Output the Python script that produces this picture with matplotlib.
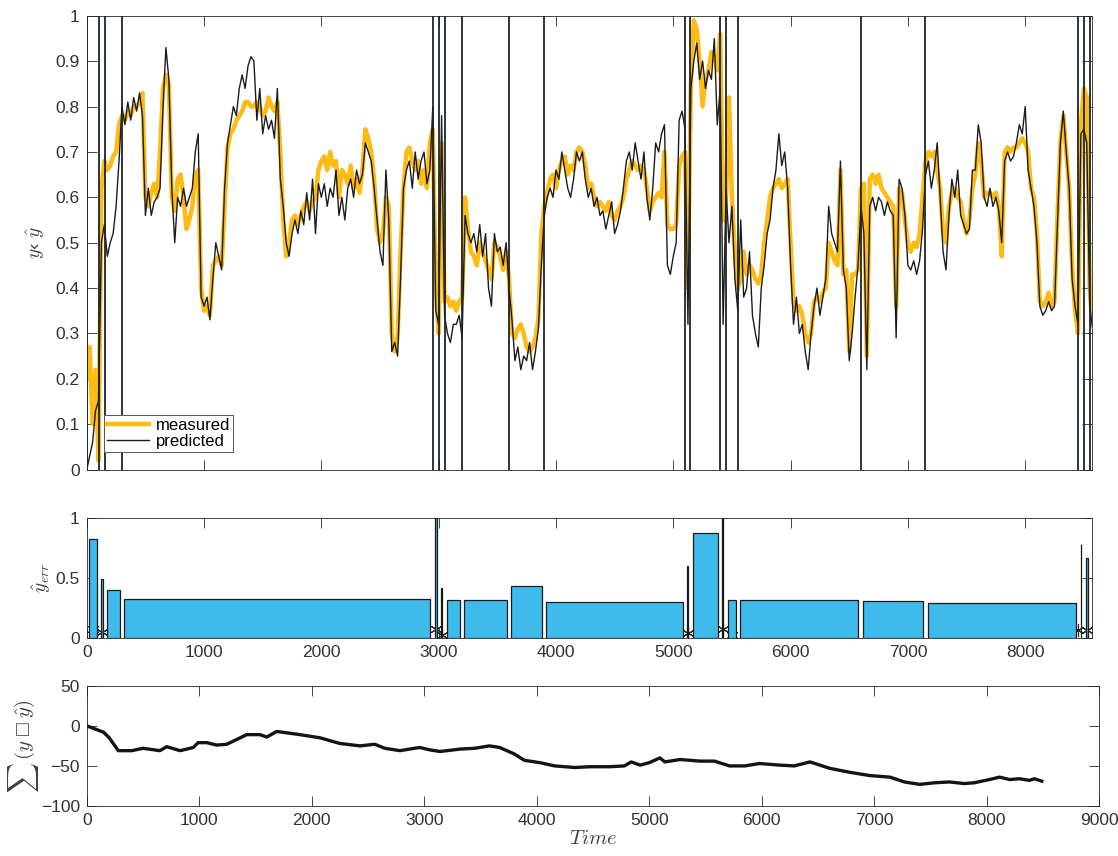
import numpy as np
import matplotlib
matplotlib.use("Agg")
import matplotlib.pyplot as plt

plt.rcParams['font.family'] = ['Liberation Sans', 'DejaVu Sans']
plt.rcParams['mathtext.fontset'] = 'cm'

# ---- sampled series (every 25 time steps) ----
time = np.arange(0, 8576, 25)

measured = np.array([
    0.20, 0.27, 0.10, 0.22, 0.02, 0.62, 0.68, 0.66, 0.67, 0.69, 0.70, 0.76, 0.78, 0.77, 0.79, 0.78, 0.80, 0.80, 0.81, 0.83,
    0.60, 0.58, 0.61, 0.63, 0.60, 0.70, 0.84, 0.87, 0.85, 0.60, 0.57, 0.64, 0.65, 0.60, 0.53, 0.55, 0.58, 0.65, 0.66, 0.40,
    0.35, 0.36, 0.34, 0.45, 0.46, 0.47, 0.45, 0.58, 0.71, 0.74, 0.75, 0.77, 0.78, 0.79, 0.81, 0.81, 0.80, 0.80, 0.81, 0.80,
    0.78, 0.79, 0.82, 0.80, 0.79, 0.81, 0.70, 0.55, 0.47, 0.50, 0.55, 0.56, 0.54, 0.56, 0.58, 0.59, 0.57, 0.59, 0.60, 0.66,
    0.68, 0.69, 0.66, 0.70, 0.67, 0.68, 0.60, 0.66, 0.65, 0.63, 0.67, 0.62, 0.64, 0.61, 0.66, 0.75, 0.73, 0.70, 0.64, 0.53,
    0.50, 0.52, 0.60, 0.58, 0.30, 0.26, 0.29, 0.48, 0.62, 0.70, 0.71, 0.68, 0.66, 0.68, 0.63, 0.66, 0.62, 0.72, 0.75, 0.40,
    0.30, 0.72, 0.37, 0.38, 0.36, 0.37, 0.35, 0.37, 0.38, 0.60, 0.53, 0.48, 0.47, 0.45, 0.50, 0.48, 0.46, 0.44, 0.42, 0.50,
    0.49, 0.47, 0.44, 0.48, 0.42, 0.30, 0.29, 0.31, 0.32, 0.30, 0.27, 0.26, 0.27, 0.29, 0.33, 0.52, 0.58, 0.61, 0.64, 0.65,
    0.62, 0.66, 0.68, 0.69, 0.65, 0.67, 0.66, 0.70, 0.71, 0.70, 0.67, 0.62, 0.63, 0.60, 0.58, 0.59, 0.58, 0.57, 0.59, 0.56,
    0.55, 0.57, 0.58, 0.60, 0.64, 0.66, 0.68, 0.67, 0.66, 0.67, 0.66, 0.62, 0.57, 0.59, 0.60, 0.61, 0.60, 0.70, 0.54, 0.53,
    0.53, 0.54, 0.67, 0.69, 0.70, 0.40, 0.85, 0.99, 0.97, 0.90, 0.80, 0.86, 0.88, 0.92, 0.91, 0.88, 0.96, 0.55, 0.60, 0.82,
    0.60, 0.48, 0.40, 0.42, 0.48, 0.43, 0.45, 0.44, 0.42, 0.41, 0.43, 0.50, 0.55, 0.60, 0.62, 0.63, 0.64, 0.62, 0.63, 0.64,
    0.50, 0.37, 0.35, 0.36, 0.34, 0.30, 0.28, 0.30, 0.37, 0.38, 0.37, 0.39, 0.40, 0.50, 0.48, 0.46, 0.45, 0.66, 0.43, 0.44,
    0.26, 0.43, 0.43, 0.44, 0.62, 0.63, 0.25, 0.64, 0.65, 0.63, 0.65, 0.62, 0.61, 0.60, 0.59, 0.58, 0.36, 0.62, 0.61, 0.55,
    0.50, 0.48, 0.50, 0.49, 0.52, 0.60, 0.68, 0.70, 0.69, 0.70, 0.66, 0.62, 0.52, 0.50, 0.58, 0.61, 0.62, 0.60, 0.59, 0.55,
    0.52, 0.55, 0.62, 0.65, 0.72, 0.68, 0.60, 0.61, 0.61, 0.60, 0.61, 0.58, 0.47, 0.70, 0.71, 0.70, 0.71, 0.71, 0.72, 0.73,
    0.72, 0.70, 0.62, 0.60, 0.52, 0.37, 0.36, 0.37, 0.39, 0.36, 0.37, 0.56, 0.72, 0.78, 0.70, 0.62, 0.45, 0.35, 0.30, 0.76,
    0.84, 0.82, 0.40, 0.32,
])

predicted = np.array([
    0.00, 0.03, 0.06, 0.13, 0.15, 0.50, 0.54, 0.47, 0.50, 0.52, 0.58, 0.68, 0.80, 0.76, 0.81, 0.77, 0.82, 0.79, 0.83, 0.78,
    0.56, 0.62, 0.56, 0.59, 0.60, 0.62, 0.80, 0.93, 0.86, 0.62, 0.50, 0.60, 0.58, 0.62, 0.58, 0.60, 0.62, 0.70, 0.74, 0.38,
    0.36, 0.38, 0.33, 0.42, 0.50, 0.47, 0.44, 0.62, 0.72, 0.76, 0.80, 0.78, 0.84, 0.87, 0.84, 0.89, 0.91, 0.90, 0.77, 0.84,
    0.74, 0.78, 0.75, 0.77, 0.73, 0.84, 0.64, 0.58, 0.50, 0.47, 0.52, 0.55, 0.52, 0.57, 0.54, 0.61, 0.55, 0.64, 0.52, 0.63,
    0.60, 0.63, 0.58, 0.62, 0.60, 0.66, 0.56, 0.60, 0.55, 0.62, 0.64, 0.60, 0.66, 0.63, 0.65, 0.72, 0.70, 0.68, 0.62, 0.55,
    0.48, 0.45, 0.66, 0.55, 0.26, 0.28, 0.25, 0.42, 0.62, 0.66, 0.68, 0.62, 0.70, 0.64, 0.68, 0.70, 0.63, 0.66, 0.80, 0.35,
    0.32, 0.78, 0.34, 0.30, 0.28, 0.32, 0.32, 0.34, 0.29, 0.56, 0.52, 0.50, 0.52, 0.48, 0.54, 0.47, 0.52, 0.40, 0.36, 0.52,
    0.48, 0.49, 0.45, 0.50, 0.40, 0.33, 0.24, 0.27, 0.22, 0.25, 0.24, 0.28, 0.22, 0.26, 0.31, 0.45, 0.56, 0.60, 0.62, 0.60,
    0.66, 0.64, 0.70, 0.66, 0.62, 0.60, 0.64, 0.70, 0.68, 0.70, 0.64, 0.60, 0.62, 0.58, 0.60, 0.56, 0.57, 0.53, 0.56, 0.59,
    0.52, 0.54, 0.57, 0.62, 0.68, 0.70, 0.66, 0.72, 0.68, 0.64, 0.70, 0.60, 0.55, 0.62, 0.72, 0.70, 0.74, 0.76, 0.45, 0.43,
    0.47, 0.50, 0.77, 0.79, 0.75, 0.32, 0.84, 0.90, 0.94, 0.86, 0.90, 0.84, 0.88, 0.86, 0.95, 0.76, 0.84, 0.32, 0.62, 0.50,
    0.58, 0.42, 0.35, 0.55, 0.38, 0.40, 0.48, 0.34, 0.30, 0.27, 0.40, 0.45, 0.52, 0.55, 0.62, 0.66, 0.74, 0.67, 0.70, 0.62,
    0.45, 0.32, 0.38, 0.30, 0.32, 0.26, 0.22, 0.30, 0.36, 0.40, 0.34, 0.38, 0.42, 0.58, 0.52, 0.50, 0.48, 0.68, 0.44, 0.40,
    0.24, 0.30, 0.38, 0.45, 0.58, 0.52, 0.22, 0.58, 0.60, 0.57, 0.60, 0.59, 0.56, 0.59, 0.57, 0.56, 0.29, 0.64, 0.62, 0.56,
    0.45, 0.44, 0.46, 0.43, 0.46, 0.53, 0.65, 0.68, 0.62, 0.66, 0.72, 0.60, 0.48, 0.44, 0.56, 0.64, 0.60, 0.66, 0.56, 0.54,
    0.52, 0.53, 0.66, 0.66, 0.76, 0.72, 0.60, 0.58, 0.62, 0.58, 0.60, 0.57, 0.50, 0.68, 0.70, 0.68, 0.69, 0.72, 0.76, 0.74,
    0.80, 0.66, 0.62, 0.58, 0.50, 0.36, 0.34, 0.35, 0.37, 0.35, 0.36, 0.54, 0.72, 0.79, 0.70, 0.62, 0.42, 0.36, 0.32, 0.74,
    0.75, 0.72, 0.36, 0.31,
])

# ---- segmentation (change points) and per-segment error ----
boundaries = [0, 105, 156, 301, 2950, 3003, 3052, 3200, 3600, 3899,
              5101, 5146, 5399, 5448, 5553, 6598, 7150, 8454, 8500, 8553]
seg_err = [0.82, 0.49, 0.40, 0.33, 1.00, 0.42, 0.32, 0.32, 0.43, 0.30,
           0.60, 0.87, 1.00, 0.32, 0.32, 0.31, 0.29, 0.78, 0.67]
star_t = [52, 130, 2976, 3027, 5123, 5423, 5500, 8450, 8527]
star_v = [0.08, 0.05, 0.08, 0.03, 0.045, 0.08, 0.03, 0.07, 0.07]

# ---- cumulative residual ----
cum_t = [0, 75, 150, 200, 281, 400, 500, 650, 711, 830, 948, 990, 1067, 1155, 1244, 1304, 1422, 1540,
         1600, 1689, 1896, 2075, 2250, 2430, 2560, 2650, 2785, 2870, 2960, 3050, 3140, 3320, 3450,
         3580, 3670, 3800, 3890, 4030, 4160, 4340, 4470, 4650, 4780, 4840, 4920, 5000, 5095, 5140,
         5275, 5450, 5580, 5715, 5850, 5980, 6160, 6290, 6430, 6605, 6785, 6960, 7140, 7270, 7405,
         7540, 7670, 7800, 7890, 8025, 8115, 8205, 8290, 8380, 8425, 8490]
cum_v = [0, -4, -8, -15, -31, -31, -28, -31, -26, -31, -27, -21, -21, -24, -23, -19, -11, -11,
         -14, -7, -11, -15, -22, -25, -23, -28, -31, -29, -27, -30, -32, -29, -28,
         -25, -27, -35, -43, -46, -50, -52, -51, -51, -50, -45, -49, -46, -40, -45,
         -42, -44, -44, -50, -50, -47, -49, -50, -45, -53, -58, -62, -64, -70, -73,
         -71, -70, -72, -71, -67, -64, -67, -66, -68, -66, -69]

t_end = 8573
axis_col = '#262626'
label_col = '#333333'
yellow = '#FDBB13'
bar_col = '#3EBAEB'

fig = plt.figure(figsize=(11.18, 8.56), dpi=100)
ax1 = fig.add_axes([0.0776, 0.4515, 0.8995, 0.5300])
ax2 = fig.add_axes([0.0776, 0.2543, 0.8995, 0.1409])
ax3 = fig.add_axes([0.0776, 0.0584, 0.9055, 0.1405])

for ax in (ax1, ax2, ax3):
    ax.tick_params(direction='in', length=7, width=0.6, color=axis_col,
                   labelcolor=label_col, labelsize=12.5, top=True, right=True, pad=5)
    for s in ax.spines.values():
        s.set_color(axis_col)
        s.set_linewidth(0.6)

# top: measured vs predicted with change points
ax1.plot(time, measured, color=yellow, lw=3.2, label='measured', solid_joinstyle='round')
ax1.plot(time, predicted, color='#1c1c1c', lw=1.0, label='predicted')
for b in boundaries:
    ax1.axvline(b, color='#1d252c', lw=1.3, zorder=4)
ax1.set_xlim(0, t_end)
ax1.set_ylim(0, 1)
ax1.set_xticks(np.arange(0, 9000, 1000))
ax1.set_xticklabels([])
yt = np.round(np.arange(0, 1.01, 0.1), 1)
ax1.set_yticks(yt)
ax1.set_yticklabels(['0' if v == 0 else ('1' if v == 1 else f'{v:g}') for v in yt])
ax1.set_ylabel('$y$‹ $\\hat{y}$', fontsize=14, color='#404040', labelpad=6)
leg = ax1.legend(loc='lower left', bbox_to_anchor=(0.017, 0.038), borderaxespad=0,
                 fancybox=False, edgecolor='#555555', framealpha=1, fontsize=12,
                 handlelength=2.5, borderpad=0.2, labelspacing=0.05, handletextpad=0.4)
leg.get_frame().set_linewidth(0.7)
leg.set_zorder(10)

# middle: segment error bars
starts = np.array(boundaries[:-1])
ends = np.array(boundaries[1:])
ax2.plot(star_t, star_v, linestyle='none', marker=(6, 2, 0), ms=9,
         mec='#262626', mew=0.8, zorder=2)
ax2.bar(starts + 20, seg_err, width=(ends - starts) - 40, align='edge',
        color=bar_col, edgecolor='#1a1a1a', linewidth=0.9, zorder=3)
ax2.set_xlim(0, t_end)
ax2.set_ylim(0, 1)
ax2.set_yticks([0, 0.5, 1])
ax2.set_yticklabels(['0', '0.5', '1'])
ax2.set_xticks(np.arange(0, 9000, 1000))
ax2.set_ylabel('$\\hat{y}_{err}$', fontsize=14, color='#404040', labelpad=2)

# bottom: cumulative residual
ax3.plot(cum_t, cum_v, color='#141414', lw=2.4)
ax3.set_xlim(0, 9000)
ax3.set_ylim(-100, 50)
ax3.set_yticks([-100, -50, 0, 50])
ax3.set_xticks(np.arange(0, 9001, 1000))
ax3.set_ylabel('$\\sum\\,(y$ □ $\\hat{y})$', fontsize=15, color='#404040', labelpad=0)
ax3.set_xlabel('$Time$', fontsize=15, color='#404040', labelpad=1)

fig.savefig('out.png', dpi=100)
